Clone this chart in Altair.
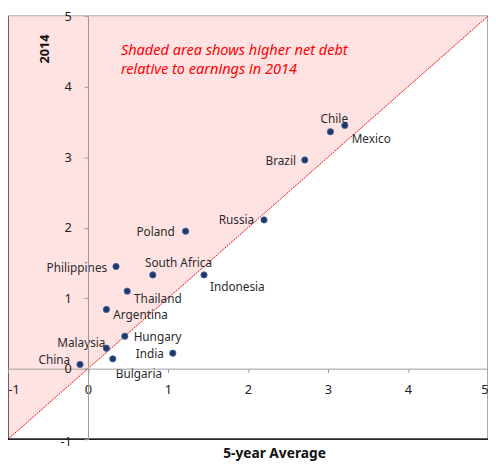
import altair as alt
import pandas as pd

countries = ["China", "Malaysia", "Bulgaria", "Hungary", "India", "Argentina",
             "Thailand", "Philippines", "South Africa", "Indonesia", "Poland",
             "Russia", "Brazil", "Chile", "Mexico"]
avg5 = [-0.10, 0.23, 0.31, 0.46, 1.06, 0.23, 0.49, 0.35, 0.81, 1.45, 1.22,
        2.20, 2.71, 3.03, 3.21]
y2014 = [0.06, 0.29, 0.14, 0.46, 0.22, 0.84, 1.10, 1.45, 1.33, 1.33, 1.95,
         2.11, 2.96, 3.36, 3.45]

ticks = [-1, 0, 1, 2, 3, 4, 5]
diag_x = [-1, 5]
note_lines = ["Shaded area shows higher net debt", "relative to earnings in 2014"]

# label placement: (dx, dy, align)
placement = {
    "China": (-10, -4, "right"),
    "Malaysia": (-1, -5, "right"),
    "Bulgaria": (3, 16, "left"),
    "Hungary": (9, 1, "left"),
    "India": (-9, 1, "right"),
    "Argentina": (7, 6, "left"),
    "Thailand": (7, 8, "left"),
    "Philippines": (-9, 2, "right"),
    "South Africa": (-8, -12, "left"),
    "Indonesia": (6, 12, "left"),
    "Poland": (-11, 1, "right"),
    "Russia": (-10, 0, "right"),
    "Brazil": (-9, 1, "right"),
    "Chile": (4, -13, "center"),
    "Mexico": (7, 14, "left"),
}

W, H = 489, 431
FONT = "Noto Sans"

df = pd.DataFrame({"country": countries, "x": avg5, "y": y2014})
diag = pd.DataFrame({"x": diag_x, "y": diag_x, "top": [5, 5]})

xs = alt.Scale(domain=[-1, 5], nice=False, zero=False)
ys = alt.Scale(domain=[-1, 5], nice=False, zero=False)

common_axis = dict(domainColor="#9a9a9a", tickColor="#9a9a9a", tickSize=4,
                   grid=False, values=ticks, labelExpr="replace(datum.label, '\u2212', '-')",
                   format="d", labelFont=FONT,
                   labelFontSize=13, labelColor="#222222", titleFont=FONT,
                   titleFontWeight="bold", titleColor="#111111", zindex=1)

xaxis = alt.Axis(title="5-year Average", offset=-H / 6, labelPadding=11,
                 titleFontSize=14, titleX=271, titleY=86, titleBaseline="middle",
                 titleAnchor="start", titleAlign="center", **common_axis)
yaxis = alt.Axis(title="2014", offset=-W / 6, labelPadding=13,
                 labelOffset={"condition": {"test": "datum.value == -1", "value": 2},
                              "value": 0},
                 titleFontSize=13, titleX=-44.5, titleY=33, titleAngle=270,
                 titleAlign="center", titleBaseline="middle", titleAnchor="start",
                 **common_axis)

area = alt.Chart(diag).mark_area(color="#FFE3E3", opacity=1).encode(
    x=alt.X("x:Q", scale=xs, axis=xaxis),
    y=alt.Y("y:Q", scale=ys, axis=yaxis),
    y2="top:Q",
)

line = alt.Chart(diag).mark_line(color="#FF0000", strokeWidth=1,
                                 strokeDash=[2, 1]).encode(
    x=alt.X("x:Q", scale=xs), y=alt.Y("y:Q", scale=ys))

frame_left = alt.Chart().mark_rule(color="#000000", strokeWidth=1.2).encode(
    x=alt.value(0), y=alt.value(0), y2=alt.value(H))
frame_bottom = alt.Chart().mark_rule(color="#000000", strokeWidth=1.2).encode(
    x=alt.value(0), x2=alt.value(W), y=alt.value(H))

points = alt.Chart(df).mark_circle(size=42, color="#1F3864", opacity=1,
                                   stroke="#4A70AE", strokeWidth=0.8).encode(
    x=alt.X("x:Q", scale=xs), y=alt.Y("y:Q", scale=ys))

label_layers = []
for c in countries:
    dx, dy, al = placement[c]
    label_layers.append(
        alt.Chart(df).transform_filter(alt.datum.country == c)
        .mark_text(dx=dx, dy=dy, align=al, baseline="middle", font=FONT,
                   fontSize=12, color="#2b2b2b")
        .encode(x=alt.X("x:Q", scale=xs), y=alt.Y("y:Q", scale=ys),
                text="country:N")
    )

note_style = dict(align="left", baseline="middle", font=FONT, fontSize=14.8,
                  fontStyle="italic", color="#FF0000")
note1 = alt.Chart().mark_text(**note_style).encode(
    x=alt.value(115), y=alt.value(36), text=alt.value(note_lines[0]))
note2 = alt.Chart().mark_text(**note_style).encode(
    x=alt.value(115), y=alt.value(55), text=alt.value(note_lines[1]))

chart = alt.layer(area, line, points, *label_layers, note1, note2,
                  frame_left, frame_bottom).properties(
    width=W, height=H,
    autosize=alt.AutoSizeParams(type="none"),
    padding={"left": 0, "top": 4, "right": 0, "bottom": 22},
).configure_view(stroke="#8a8a8a", strokeWidth=1.5)

chart.save("out.html", embed_options={"renderer": "svg", "actions": False})
